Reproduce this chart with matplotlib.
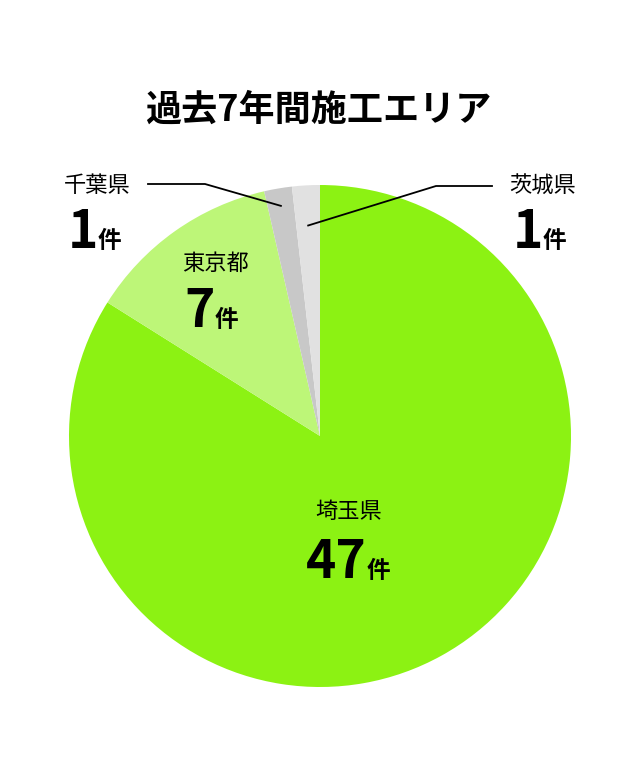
import matplotlib.pyplot as plt
from matplotlib.lines import Line2D
import numpy as np

plt.rcParams["font.family"] = ["Noto Sans CJK JP", "DejaVu Sans"]

prefs = ["埼玉県", "東京都", "千葉県", "茨城県"]
counts = [47, 7, 1, 1]
colors = ["#8cf213", "#bdf678", "#c8c8c8", "#e1e1e1"]
unit = "件"
title = "過去7年間施工エリア"

W, H = 638, 760
CX, CY, R = 320, 436, 251


def fx(px):
    return px / W


def fy(py):
    return 1 - py / H


fig = plt.figure(figsize=(W / 100, H / 100), dpi=100)
ax = fig.add_axes([fx(CX - R), fy(CY + R), 2 * R / W, 2 * R / H])
wedges, _ = ax.pie(counts, colors=colors, startangle=90, counterclock=False,
                   radius=1.0, wedgeprops=dict(linewidth=0))
ax.set_xlim(-1, 1)
ax.set_ylim(-1, 1)
ax.axis("off")

fig.text(fx(318), fy(110), title, ha="center", va="center",
         fontsize=26, fontweight="bold")


def label(name, n, x, name_y, split_x, base_y):
    fig.text(fx(x), fy(name_y), name, ha="center", va="center", fontsize=16)
    fig.text(fx(split_x), fy(base_y), str(n), ha="right", va="baseline",
             fontsize=37, fontweight="bold")
    fig.text(fx(split_x), fy(base_y), unit, ha="left", va="baseline",
             fontsize=17, fontweight="bold")


# inside labels
label(prefs[0], counts[0], 349, 512, 367, 578)
label(prefs[1], counts[1], 215, 263, 215, 327)
# outside labels
label(prefs[2], counts[2], 97, 186, 98, 248)
label(prefs[3], counts[3], 543, 186, 543, 248)


def to_px(w, r):
    mid = np.deg2rad((w.theta1 + w.theta2) / 2)
    return CX + R * r * np.cos(mid), CY - R * r * np.sin(mid)


ex, ey = to_px(wedges[2], 0.93)
fig.add_artist(Line2D([fx(148), fx(205), fx(ex)], [fy(184), fy(184), fy(ey)],
                      color="black", linewidth=1.3))
ex, ey = to_px(wedges[3], 0.84)
fig.add_artist(Line2D([fx(ex), fx(436), fx(492)], [fy(ey), fy(186), fy(186)],
                      color="black", linewidth=1.3))

fig.savefig("out.png", dpi=100, facecolor="white")
